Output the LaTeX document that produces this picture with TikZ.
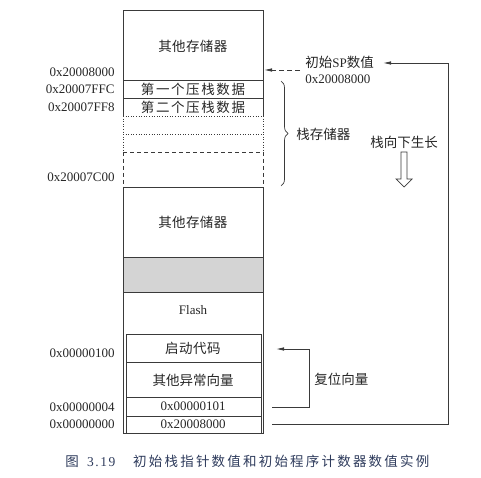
\documentclass[tikz,border=0pt]{standalone}
\usepackage{fontspec}
\setmainfont{Liberation Serif}
\newfontfamily\cjk{Noto Sans CJK SC}
\usetikzlibrary{arrows.meta,decorations.pathreplacing,calc}
\definecolor{ln}{HTML}{3A3A3A}
\definecolor{cap}{HTML}{2E3B5C}
\newlength\chkern
\def\spaced#1#2{\chkern=#1\relax\spacedi#2\relax}
\def\spacedi#1{\ifx#1\relax\else#1\kern\chkern\expandafter\spacedi\fi}
\begin{document}
\begin{tikzpicture}[x=1pt,y=-1pt,
  line width=0.8pt,
  txt/.style={inner sep=0pt,font=\fontsize{13}{15}\selectfont,text=black!85},
  ctxt/.style={inner sep=0pt,font=\fontsize{13.5}{15}\selectfont\cjk,text=black!85},
  addr/.style={txt,anchor=east},
  arr/.style={draw=ln,-{Latex[length=8pt,width=3.5pt]}},
  solidl/.style={draw=ln},
  dotl/.style={draw=ln,dotted,line width=0.6pt},
  dashl/.style={draw=ln,dash pattern=on 4pt off 3pt}]
\useasboundingbox (0,0) rectangle (481,478);

% outer memory map
\draw[solidl] (123,116) -- (123,10) -- (263,10) -- (263,116);
\draw[dotl] (123,116) -- (123,152) (263,116) -- (263,152);
\draw[dashl] (123,152) -- (123,187) (263,152) -- (263,187);
\draw[solidl] (123,187) -- (123,433) -- (263,433) -- (263,187);
\draw[solidl] (123,80) -- (263,80);
\draw[solidl] (123,98) -- (263,98);
\draw[dotl] (123,116) -- (263,116);
\draw[dotl] (123,134) -- (263,134);
\draw[dashl] (123,152) -- (263,152);
\draw[solidl] (123,187) -- (263,187);
\draw[solidl,fill=black!17] (123,257) rectangle (263,292);

% inner vector table box
\draw[solidl] (126,334) rectangle (261,433);
\draw[solidl] (126,362) -- (261,362);
\draw[solidl] (126,397) -- (261,397);
\draw[solidl] (126,416) -- (261,416);

% cell texts
\node[ctxt] (top) at (193,46) {\spaced{0.4pt}{其他存储器}};
\node[ctxt] (d1) at (193+0.8,89) {\spaced{1.6pt}{第一个压栈数据}};
\node[ctxt] (d2) at (193+0.8,107) {\spaced{1.6pt}{第二个压栈数据}};
\node[ctxt] (mid) at (193,222) {\spaced{0.4pt}{其他存储器}};
\node[txt] (flash) at (193,310) {Flash};
\node[ctxt] (boot) at (193,348) {\spaced{0.5pt}{启动代码}};
\node[ctxt] (exc) at (193,380) {其他异常向量};
\node[txt] (rv) at (193,406.5) {0x00000101};
\node[txt] (sp) at (193,424.5) {0x20008000};

% address labels
\node[addr] (a1) at (115,72) {0x20008000};
\node[addr] (a2) at (115,89) {0x20007FFC};
\node[addr] (a3) at (115,107) {0x20007FF8};
\node[addr] (a4) at (115,177) {0x20007C00};
\node[addr] (a5) at (115,353) {0x00000100};
\node[addr] (a6) at (115,407) {0x00000004};
\node[addr] (a7) at (115,424) {0x00000000};

% initial SP labels
\node[txt,anchor=west] (spl) at (305,62) {{\fontsize{13.5}{15}\selectfont\cjk 初始}SP{\fontsize{13.5}{15}\selectfont\cjk 数值}};
\node[txt,anchor=west] (spv) at (305,79) {0x20008000};
\coordinate (dashA) at (300,70);
\coordinate (dashB) at (264,70);
\draw[arr,dash pattern=on 5pt off 3pt] (dashA) -- (dashB);

% brace
\coordinate (brA) at (281,81);
\coordinate (brB) at (281,186);
\draw[ln,line width=0.7pt,decorate,decoration={brace,amplitude=7pt}] (brA) -- (brB);
\node[ctxt,anchor=west] (stk) at (296,134) {栈存储器};

% grows down
\node[ctxt] (grow) at (404,142) {栈向下生长};
\draw[ln,line width=0.7pt] (401,152) -- (407,152) -- (407,179) -- (412,179) -- (404,187) -- (396,179) -- (401,179) -- cycle;

% reset vector arrow
\coordinate (rvA) at (272,407);
\coordinate (rvC) at (309,407);
\coordinate (rvB) at (276,349);
\draw[arr] (rvA) -- (rvC) |- (rvB);
\node[ctxt,anchor=west] (rvl) at (314,379) {复位向量};

% SP loop
\coordinate (spA) at (272,424);
\coordinate (spC) at (448,424);
\coordinate (spB) at (383,63);
\draw[arr] (spA) -- (spC) |- (spB);

% caption
\node[inner sep=0pt,anchor=west,text=cap,font=\fontsize{13.5}{15}\selectfont] (capt) at (65,461) {{\cjk 图}\hspace{0.6em}\spaced{1.6pt}{3.19}\hspace{1.2em}{\cjk\spaced{2.2pt}{初始栈指针数值和初始程序计数器数值实例}}};
\end{tikzpicture}
\end{document}
